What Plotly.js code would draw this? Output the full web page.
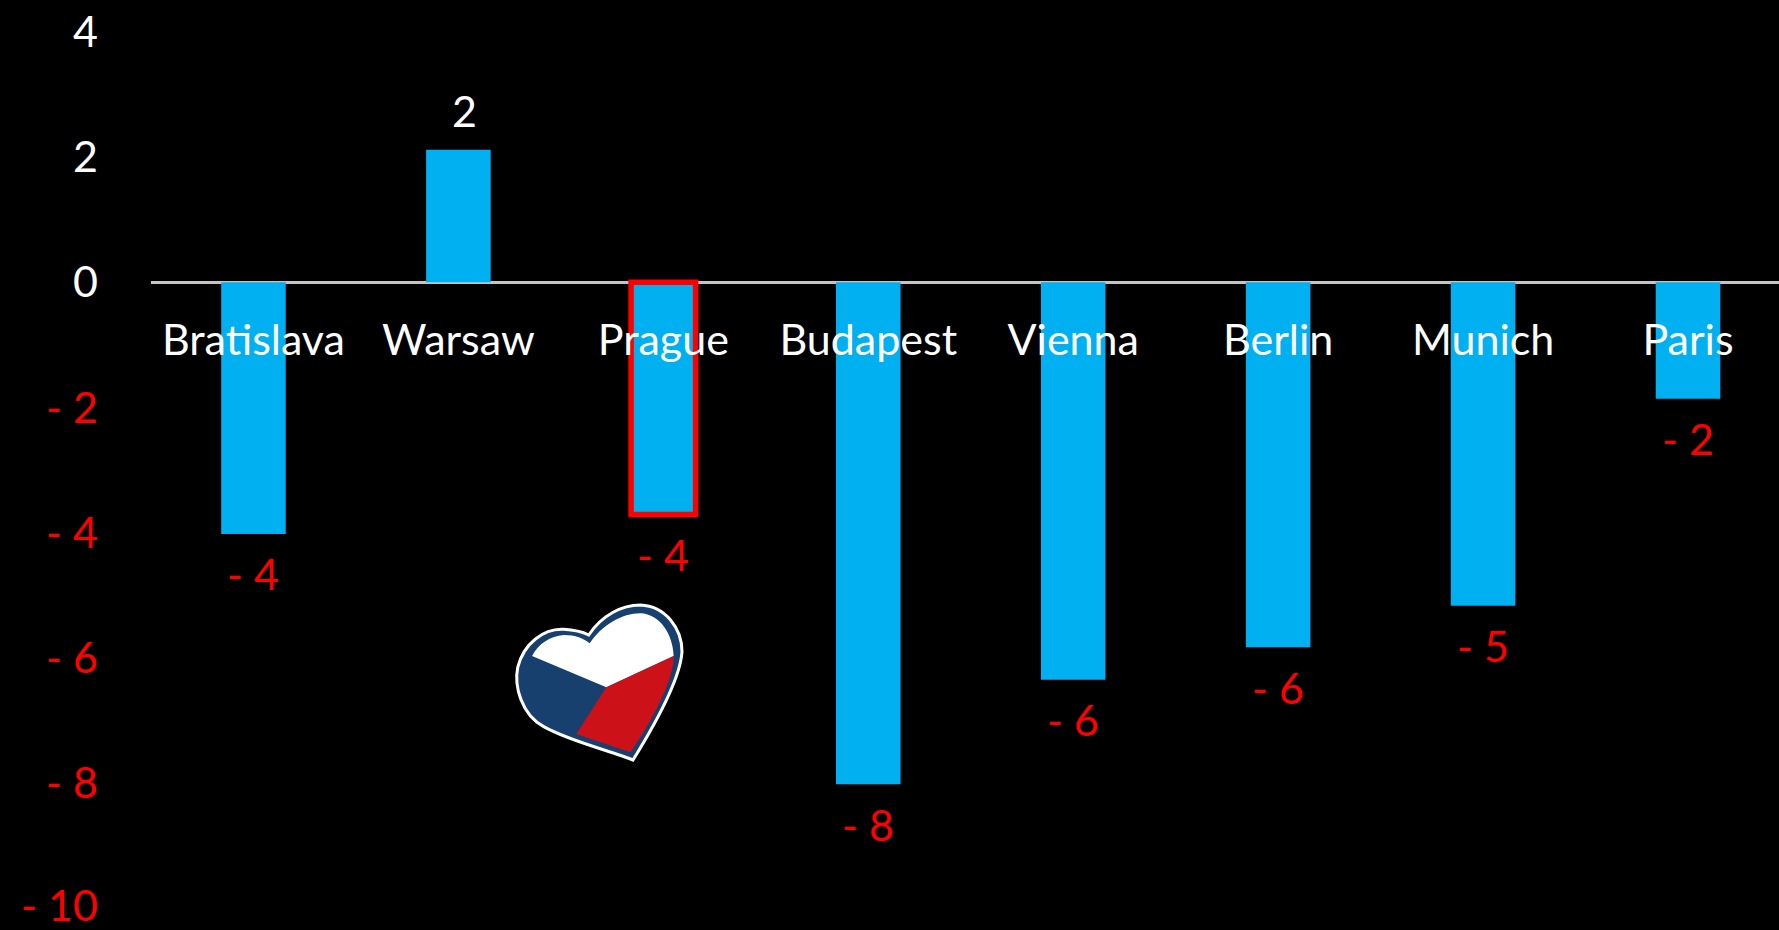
<!DOCTYPE html>
<html><head><meta charset="utf-8">
<script src="https://cdn.plot.ly/plotly-3.0.1.min.js"></script>
<style>html,body{margin:0;padding:0;background:#000;overflow:hidden}#c{width:1779px;height:930px}text{font-variant-ligatures:none}</style>
</head><body><div id="c"></div>
<script>
const cities = ["Bratislava","Warsaw","Prague","Budapest","Vienna","Berlin","Munich","Paris"];
const values = [-4.02,2.12,-3.71,-8.02,-6.35,-5.83,-5.17,-1.86];
const labels = ["- 4","2","- 4","- 8","- 6","- 6","- 5","- 2"];
const yTicks = [4,2,0,-2,-4,-6,-8];
const yTickText = ["4","2","0","- 2","- 4","- 6","- 8"];
const yLastTick = -10;
const yLastTickText = "- 10";
const highlighted = "Prague";

const FONT = 'Lato, "Noto Sans", sans-serif';
const FS = 43;
const W = 1779, H = 930, L = 150.5, T = 32, B = 930;
const YMIN = -10.35, YMAX = 4;
const RED = "#ff0000", WHITE = "#ffffff";

function heartPath(d){
  // decorative path authored in the coordinates of a 3x crop at (480,580)
  return d.replace(/(-?[\d.]+),(-?[\d.]+)/g,(m,a,b)=>{
    const px = 480 + a/3, py = 580 + b/3;
    return ((px-L)/(W-L)).toFixed(5)+","+((B-py)/(B-T)).toFixed(5);
  });
}
const outer = "M325,165 C365,105 425,75 480,75 C555,78 605,145 605,215 C600,295 520,440 458,540 C400,515 270,485 190,440 C125,405 100,320 112,262 C130,190 190,145 250,148 C285,150 305,155 325,165 Z";
const whitePart = "M155,228 C175,190 210,168 250,165 C285,165 310,175 328,190 C365,135 425,100 480,100 C540,102 578,165 580,228 L378,322 Z";
const redPart = "M580,228 L378,322 L288,462 L450,517 C510,430 582,300 580,228 Z";
const sh = (d,fill,lc,lw)=>({type:"path",xref:"paper",yref:"paper",path:heartPath(d),fillcolor:fill,line:{color:lc||fill,width:lw||0},layer:"above"});

const trace = {
  type:"bar", x:cities, y:values, width:0.315,
  marker:{color:"#00b0f0",
    line:{color:cities.map(c=>c===highlighted?RED:"rgba(0,0,0,0)"),
          width:cities.map(c=>c===highlighted?5.5:0)}},
  hoverinfo:"x+y", cliponaxis:false
};
const annotations = cities.map((c,i)=>({
  x:c, y:values[i], xref:"x", yref:"y", text:labels[i], showarrow:false,
  yanchor:"middle", xanchor:"center", yshift: values[i]>0?39:-40, xshift: values[i]>0?6:0,
  font:{family:FONT,size:FS,color:values[i]>0?WHITE:RED}
}));
annotations.push({x:(98-L)/(W-L),y:yLastTick,xref:"paper",yref:"y",text:yLastTickText,showarrow:false,
  xanchor:"right",yanchor:"middle",yshift:4,borderpad:0,font:{family:FONT,size:FS,color:RED}});
const layout = {
  width:W,height:H,paper_bgcolor:"#000",plot_bgcolor:"#000",showlegend:false,
  margin:{l:L,r:0,t:T,b:H-B,autoexpand:false},
  font:{family:FONT,color:WHITE},
  xaxis:{type:"category",categoryorder:"array",categoryarray:cities,range:[-0.5,7.444],
    anchor:"free",position:(0-YMIN)/(YMAX-YMIN),showline:false,showgrid:false,zeroline:false,ticks:"",
    ticklabelstandoff:29,automargin:false,tickangle:0,tickfont:{family:FONT,size:FS,color:WHITE},layer:"above traces"},
  yaxis:{range:[YMIN,YMAX],tickmode:"array",tickvals:yTicks,
    ticktext:yTickText.map((t,i)=>yTicks[i]<0?'<span style="color:'+RED+'">'+t+'</span>':t),
    showgrid:false,zeroline:true,zerolinecolor:"#c4c4c4",zerolinewidth:2.5,showline:false,ticks:"",
    ticklabelstandoff:52,automargin:false,tickfont:{family:FONT,size:FS,color:WHITE}},
  annotations,
  shapes:[sh(outer,"#17406f","#ffffff",3),sh(whitePart,"#ffffff"),sh(redPart,"#cc1118")]
};
Plotly.newPlot("c",[trace],layout,{displayModeBar:false,staticPlot:true});
</script></body></html>
